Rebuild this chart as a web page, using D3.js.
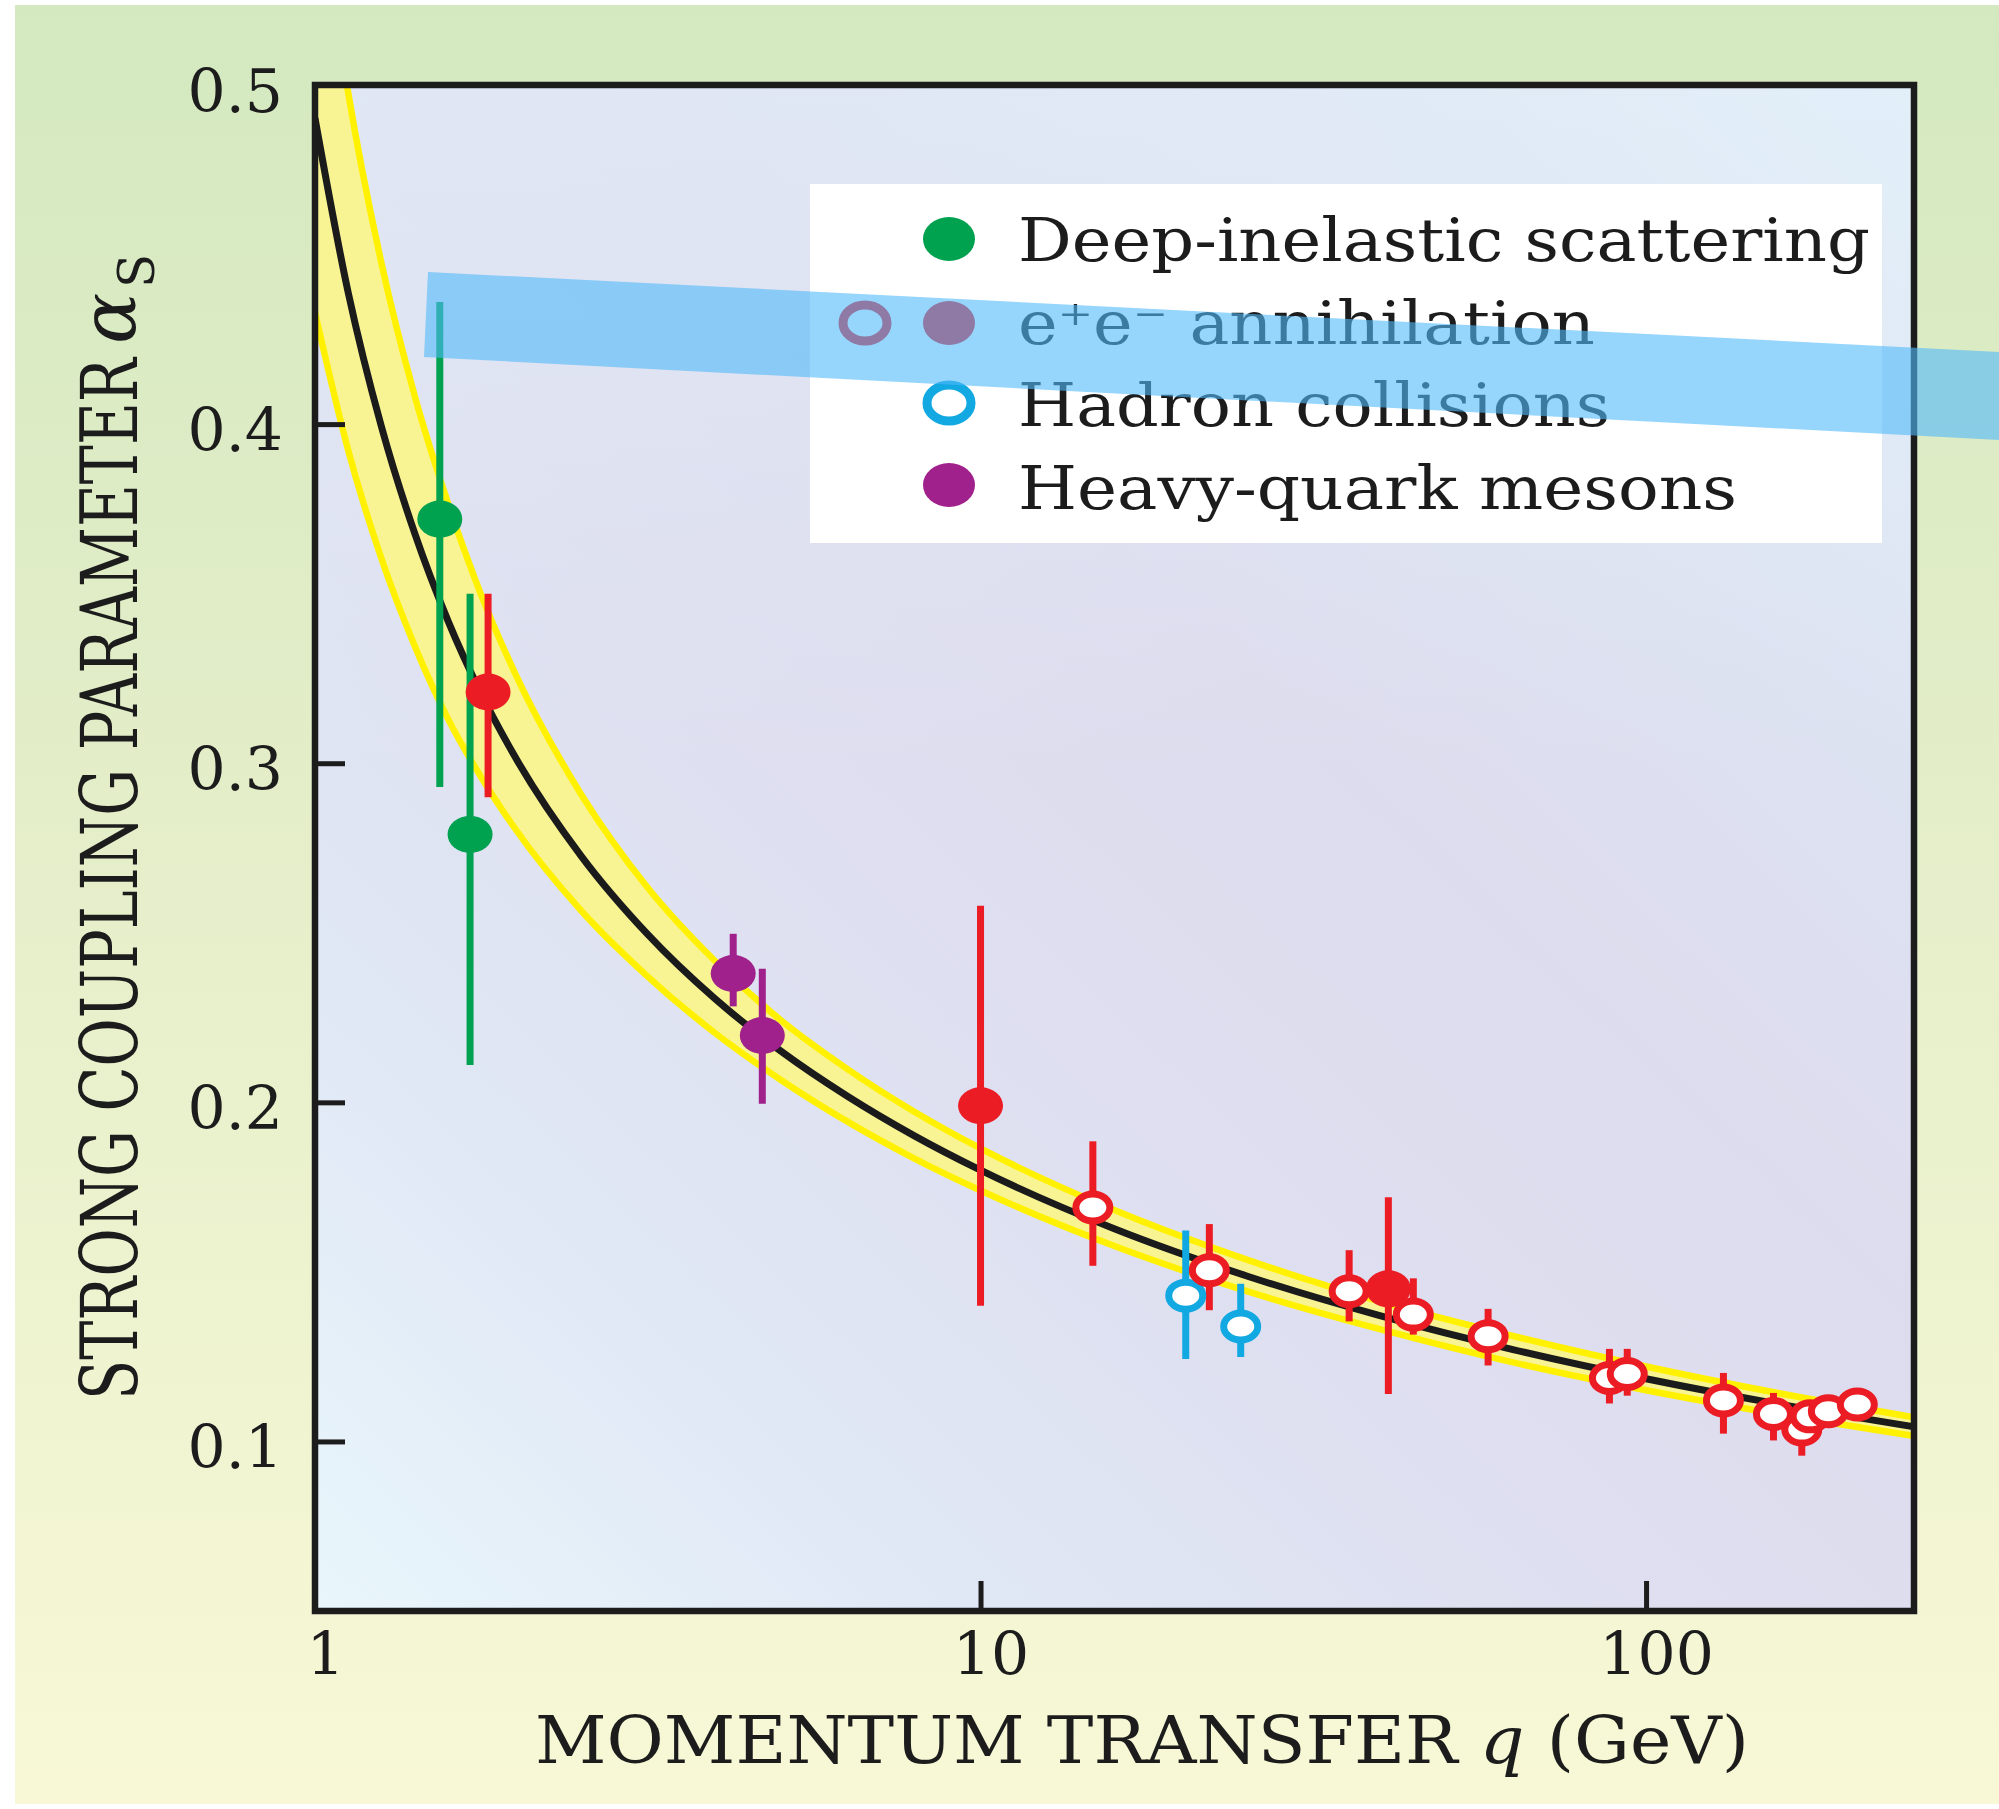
<!DOCTYPE html>
<html>
<head>
<meta charset="utf-8">
<script src="https://cdn.jsdelivr.net/npm/d3@7"></script>
<style>
  html, body { margin: 0; padding: 0; background: #ffffff; }
  svg { display: block; }
  text { font-family: "DejaVu Serif", "Liberation Serif", serif; fill: #1c1c1c; }
</style>
</head>
<body>
<svg id="chart" width="1999" height="1809"></svg>
<script>
// ---- Running coupling: central curve and uncertainty band, sampled in q (GeV) ----
const curveQ     = [1.0, 1.122, 1.259, 1.413, 1.585, 1.778, 1.995, 2.512, 3.162, 3.981, 5.012, 6.310, 7.943, 10.0, 15.85, 25.12, 39.81, 63.10, 100.0, 158.5, 252.9];
const curveAlpha = [0.4902, 0.4387, 0.3991, 0.3676, 0.3419, 0.3204, 0.3021, 0.2726, 0.2495, 0.2307, 0.2151, 0.2018, 0.1902, 0.1800, 0.1628, 0.1488, 0.1371, 0.1271, 0.1185, 0.1110, 0.1043];
const bandLower  = [0.4329, 0.3922, 0.3602, 0.3344, 0.3130, 0.2958, 0.2809, 0.2565, 0.2371, 0.2206, 0.2066, 0.1943, 0.1835, 0.1740, 0.1577, 0.1443, 0.1331, 0.1233, 0.1151, 0.1080, 0.1016];
const bandUpper  = [0.5650, 0.4976, 0.4473, 0.4081, 0.3766, 0.3495, 0.3268, 0.2908, 0.2633, 0.2419, 0.2242, 0.2098, 0.1973, 0.1864, 0.1683, 0.1536, 0.1413, 0.1311, 0.1221, 0.1142, 0.1071];

// ---- Measurements: q, alpha_s, lower and upper end of error bar ----
// Deep-inelastic scattering (filled green)
const disQ     = [1.54, 1.71];
const disAlpha = [0.372, 0.279];
const disLo    = [0.293, 0.211];
const disHi    = [0.436, 0.350];

// e+e- annihilation, filled (red)
const eeFilledQ     = [1.82, 10.0, 41.0];
const eeFilledAlpha = [0.321, 0.199, 0.145];
const eeFilledLo    = [0.290, 0.140, 0.114];
const eeFilledHi    = [0.350, 0.258, 0.172];

// e+e- annihilation, open (red)
const eeOpenQ     = [14.75, 22.07, 35.8, 44.7, 57.9, 88.1, 93.7, 130.7, 155.4, 171.4, 176.4, 187.9, 207.7];
const eeOpenAlpha = [0.169, 0.1505, 0.1443, 0.1374, 0.131, 0.1187, 0.1199, 0.1121, 0.1081, 0.1035, 0.1074, 0.1089, 0.1109];
const eeOpenLo    = [0.1518, 0.1387, 0.1354, 0.1315, 0.1224, 0.1112, 0.1135, 0.1023, 0.1003, 0.0958, 0.1044, 0.1059, 0.1079];
const eeOpenHi    = [0.1885, 0.1641, 0.1564, 0.1481, 0.1391, 0.1273, 0.1273, 0.1202, 0.1143, 0.1095, 0.1104, 0.1119, 0.1139];

// Hadron collisions (open cyan)
const hadQ     = [20.34, 24.6];
const hadAlpha = [0.143, 0.1339];
const hadLo    = [0.1243, 0.1249];
const hadHi    = [0.1622, 0.1465];

// Heavy-quark mesons (filled purple)
const hqQ     = [4.25, 4.70];
const hqAlpha = [0.238, 0.2197];
const hqLo    = [0.2283, 0.1996];
const hqHi    = [0.2497, 0.2394];

// ---- Axes ----
const xDomain = [1, 252.7];
const yDomain = [0.05, 0.5];
const xTicks = [1, 10, 100];
const xTickLabels = ["1", "10", "100"];
const yTicks = [0.1, 0.2, 0.3, 0.4, 0.5];
const yTickLabels = ["0.1", "0.2", "0.3", "0.4", "0.5"];

// ---- Legend entries ----
const legendLabels = ["Deep-inelastic scattering", "e\u207Ae\u207B annihilation", "Hadron collisions", "Heavy-quark mesons"];

// ---- Colours ----
const RED = "#ec1c24", GREEN = "#00a14f", CYAN = "#12a8e2", PURPLE = "#a0208c";

// ---- Layout ----
const plot = { left: 315, right: 1914, top: 85, bottom: 1611 };
const svg = d3.select("#chart");

const x = d3.scaleLog().domain(xDomain).range([plot.left, plot.right]);
const y = d3.scaleLinear().domain(yDomain).range([plot.bottom, plot.top]);

const defs = svg.append("defs");
const outer = defs.append("linearGradient").attr("id", "outerGrad")
  .attr("x1", 0).attr("y1", 0).attr("x2", 0).attr("y2", 1);
[[0, "#d4e9c0"], [0.45, "#e4eec9"], [1, "#f8f8d6"]].forEach(([o, c]) =>
  outer.append("stop").attr("offset", o).attr("stop-color", c));

const inner = defs.append("linearGradient").attr("id", "plotGrad")
  .attr("x1", 0).attr("y1", 1).attr("x2", 1).attr("y2", 0);
[[0, "#e9f6fb"], [0.2, "#e0e8f5"], [0.4, "#dedff0"], [0.6, "#dddcee"], [0.8, "#dde3f2"], [1, "#e2eff9"]].forEach(([o, c]) =>
  inner.append("stop").attr("offset", o).attr("stop-color", c));

// soft blue wash over the upper part of the plot area
const wash = defs.append("linearGradient").attr("id", "plotWash")
  .attr("x1", 0).attr("y1", 0).attr("x2", 0).attr("y2", 1);
[[0, "#e2eef8", 0.6], [0.45, "#e2eef8", 0]].forEach(([o, c, a]) =>
  wash.append("stop").attr("offset", o).attr("stop-color", c).attr("stop-opacity", a));

defs.append("clipPath").attr("id", "plotClip")
  .append("rect").attr("x", plot.left).attr("y", plot.top)
  .attr("width", plot.right - plot.left).attr("height", plot.bottom - plot.top);

// page background
svg.append("rect").attr("x", 15).attr("y", 5).attr("width", 1984).attr("height", 1799)
  .attr("fill", "url(#outerGrad)");

// plot background
["url(#plotGrad)", "url(#plotWash)"].forEach(f =>
  svg.append("rect").attr("x", plot.left).attr("y", plot.top)
    .attr("width", plot.right - plot.left).attr("height", plot.bottom - plot.top)
    .attr("fill", f));

const clipped = svg.append("g").attr("clip-path", "url(#plotClip)");

// uncertainty band
const bandData = curveQ.map((q, i) => ({ q, lo: bandLower[i], hi: bandUpper[i], a: curveAlpha[i] }));
clipped.append("path").datum(bandData)
  .attr("d", d3.area().x(d => x(d.q)).y0(d => y(d.lo)).y1(d => y(d.hi)).curve(d3.curveMonotoneX))
  .attr("fill", "#f9f493");
["lo", "hi"].forEach(k => {
  clipped.append("path").datum(bandData)
    .attr("d", d3.line().x(d => x(d.q)).y(d => y(d[k])).curve(d3.curveMonotoneX))
    .attr("fill", "none").attr("stroke", "#fff100").attr("stroke-width", 6.5);
});
// central curve
clipped.append("path").datum(bandData)
  .attr("d", d3.line().x(d => x(d.q)).y(d => y(d.a)).curve(d3.curveMonotoneX))
  .attr("fill", "none").attr("stroke", "#1b1b1b").attr("stroke-width", 7);

// collect all measurements
function series(qs, as, los, his, color, open) {
  return qs.map((q, i) => ({ q, a: as[i], lo: los[i], hi: his[i], color, open }));
}
const points = [].concat(
  series(disQ, disAlpha, disLo, disHi, GREEN, false),
  series(eeFilledQ, eeFilledAlpha, eeFilledLo, eeFilledHi, RED, false),
  series(eeOpenQ, eeOpenAlpha, eeOpenLo, eeOpenHi, RED, true),
  series(hadQ, hadAlpha, hadLo, hadHi, CYAN, true),
  series(hqQ, hqAlpha, hqLo, hqHi, PURPLE, false)
).sort((p, r) => p.q - r.q);

// error bars
clipped.append("g").selectAll("line").data(points).join("line")
  .attr("x1", d => x(d.q)).attr("x2", d => x(d.q))
  .attr("y1", d => y(d.lo)).attr("y2", d => y(d.hi))
  .attr("stroke", d => d.color).attr("stroke-width", 7);

// markers
clipped.append("g").selectAll("ellipse").data(points).join("ellipse")
  .attr("cx", d => x(d.q)).attr("cy", d => y(d.a))
  .attr("rx", d => d.open ? 17 : 22.5).attr("ry", d => d.open ? 13.5 : 18.5)
  .attr("fill", d => d.open ? "#ffffff" : d.color)
  .attr("stroke", d => d.open ? d.color : "none")
  .attr("stroke-width", 7);

// legend
const lg = svg.append("g");
lg.append("rect").attr("x", 810).attr("y", 184).attr("width", 1072).attr("height", 359).attr("fill", "#ffffff");
const legendRows = [239, 323, 403, 485];
const legendWidths = [852, 577, 592, 719];
const legendBaseline = [261, 344, 426, 509];
legendLabels.forEach((lab, i) => {
  lg.append("text").attr("x", 1018).attr("y", legendBaseline[i])
    .attr("font-size", 59).attr("textLength", legendWidths[i]).attr("lengthAdjust", "spacingAndGlyphs")
    .text(lab);
});
// legend symbols
lg.append("ellipse").attr("cx", 949).attr("cy", legendRows[0]).attr("rx", 26).attr("ry", 22).attr("fill", GREEN);
lg.append("ellipse").attr("cx", 865).attr("cy", legendRows[1]).attr("rx", 22).attr("ry", 18)
  .attr("fill", "#ffffff").attr("stroke", RED).attr("stroke-width", 9);
lg.append("ellipse").attr("cx", 949).attr("cy", legendRows[1]).attr("rx", 26).attr("ry", 22).attr("fill", RED);
lg.append("ellipse").attr("cx", 949).attr("cy", legendRows[2]).attr("rx", 22).attr("ry", 18)
  .attr("fill", "#ffffff").attr("stroke", CYAN).attr("stroke-width", 9);
lg.append("ellipse").attr("cx", 949).attr("cy", legendRows[3]).attr("rx", 26).attr("ry", 22).attr("fill", PURPLE);

// axes (ticks point inward)
const yAxis = svg.append("g").attr("transform", `translate(${plot.left},0)`)
  .call(d3.axisLeft(y).tickValues(yTicks).tickFormat((d, i) => yTickLabels[i]).tickSize(-30).tickPadding(32));
const xAxis = svg.append("g").attr("transform", `translate(0,${plot.bottom})`)
  .call(d3.axisBottom(x).tickValues(xTicks).tickFormat((d, i) => xTickLabels[i]).tickSize(-30).tickPadding(21));
[yAxis, xAxis].forEach(g => {
  g.select(".domain").remove();
  g.selectAll(".tick line").attr("stroke", "#1c1c1c").attr("stroke-width", 5);
  g.selectAll(".tick text").attr("font-size", 60).attr("fill", "#1c1c1c")
    .attr("font-family", "DejaVu Serif, Liberation Serif, serif");
});
yAxis.selectAll(".tick text").attr("dy", "0.44em");
xAxis.selectAll(".tick text").attr("dx", 10);

// frame
svg.append("rect").attr("x", plot.left).attr("y", plot.top)
  .attr("width", plot.right - plot.left).attr("height", plot.bottom - plot.top)
  .attr("fill", "none").attr("stroke", "#1c1c1c").attr("stroke-width", 6.5);

// axis titles
const yt = svg.append("g").attr("transform", "translate(137,1400) rotate(-90)");
yt.append("text").attr("x", 0).attr("y", 0).attr("font-size", 78)
  .attr("textLength", 1042).attr("lengthAdjust", "spacingAndGlyphs")
  .text("STRONG COUPLING PARAMETER");
yt.append("text").attr("x", 1056).attr("y", -2).attr("font-size", 76).attr("font-style", "italic")
  .attr("font-family", "Liberation Serif, DejaVu Serif, serif").text("\u03B1");
yt.append("text").attr("x", 1112).attr("y", 17).attr("font-size", 50).text("S");

const xt = svg.append("text").attr("x", 535).attr("y", 1763).attr("font-size", 66)
  .attr("textLength", 1214).attr("lengthAdjust", "spacingAndGlyphs");
xt.append("tspan").text("MOMENTUM TRANSFER ");
xt.append("tspan").attr("font-style", "italic").text("q");
xt.append("tspan").text(" (GeV)");

// translucent highlight strip across the upper part of the figure
svg.append("polygon")
  .attr("points", [[428, 272], [1999, 352], [1999, 440], [424, 357]].map(p => p.join(",")).join(" "))
  .attr("fill", "rgb(80,185,250)").attr("fill-opacity", 0.6);
</script>
</body>
</html>
